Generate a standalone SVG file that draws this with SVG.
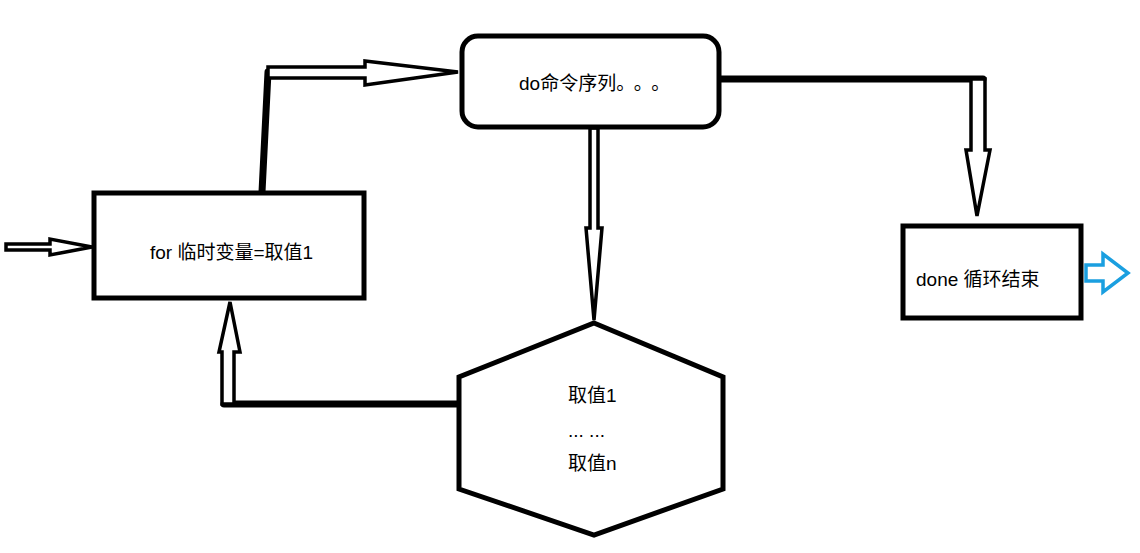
<svg xmlns="http://www.w3.org/2000/svg" width="1140" height="553" viewBox="0 0 1140 553">
<style>
.n{fill:#fff;stroke:#000;stroke-width:5}
.a{fill:#fff;stroke:#000;stroke-width:3.5;stroke-linejoin:miter}
.l{fill:none;stroke:#000;stroke-width:7;stroke-linecap:round}
text{font-family:"Liberation Sans","Noto Sans CJK SC",sans-serif;font-size:19px;fill:#000}
.c{font-family:"Noto Sans CJK SC",sans-serif;letter-spacing:8px}
</style>
<rect width="1140" height="553" fill="#fff"/>
<g id="connectors">
<path class="l" d="M262,192 L268,72"/>
<polygon class="a" points="268,67 365,67 365,61 458,72 365,85 365,78 268,78"/>
<polygon class="a" points="6,244 50,244 50,239 92,247 50,255 50,250 6,250"/>
<path class="l" d="M720,79 L983,79"/>
<polygon class="a" points="971,79 985,79 985,150 990,150 977,216 966,150 971,150"/>
<path class="l" d="M594,128 L594,150"/>
<polygon class="a" points="590,128 598,128 598,228 602,228 594,320 586,228 590,228"/>
<path class="l" d="M458,404 L224,404"/>
<polygon class="a" points="222,404 234,404 234,352 240,352 230,302 219,352 222,352"/>
<polygon points="1086,265 1103,265 1103,254 1128,273 1103,292 1103,281 1086,281" fill="#fff" stroke="#1a9fe0" stroke-width="3.5"/>
</g>
<g id="for"><rect class="n" x="94" y="193" width="270" height="105"/><text x="150" y="259">for 临时变量=取值1</text></g>
<g id="do"><rect class="n" x="462" y="36" width="257" height="91" rx="16"/><text x="519" y="90">do命令序列<tspan class="c">。。。</tspan></text></g>
<g id="done"><rect class="n" x="903" y="226" width="178" height="92"/><text x="916" y="286">done 循环结束</text></g>
<g id="values"><polygon class="n" points="594,323 723,377 723,489 594,535 459,489 459,377"/>
<text x="568" y="402">取值1</text><text x="568" y="437">... ...</text><text x="568" y="470">取值n</text></g>
</svg>
